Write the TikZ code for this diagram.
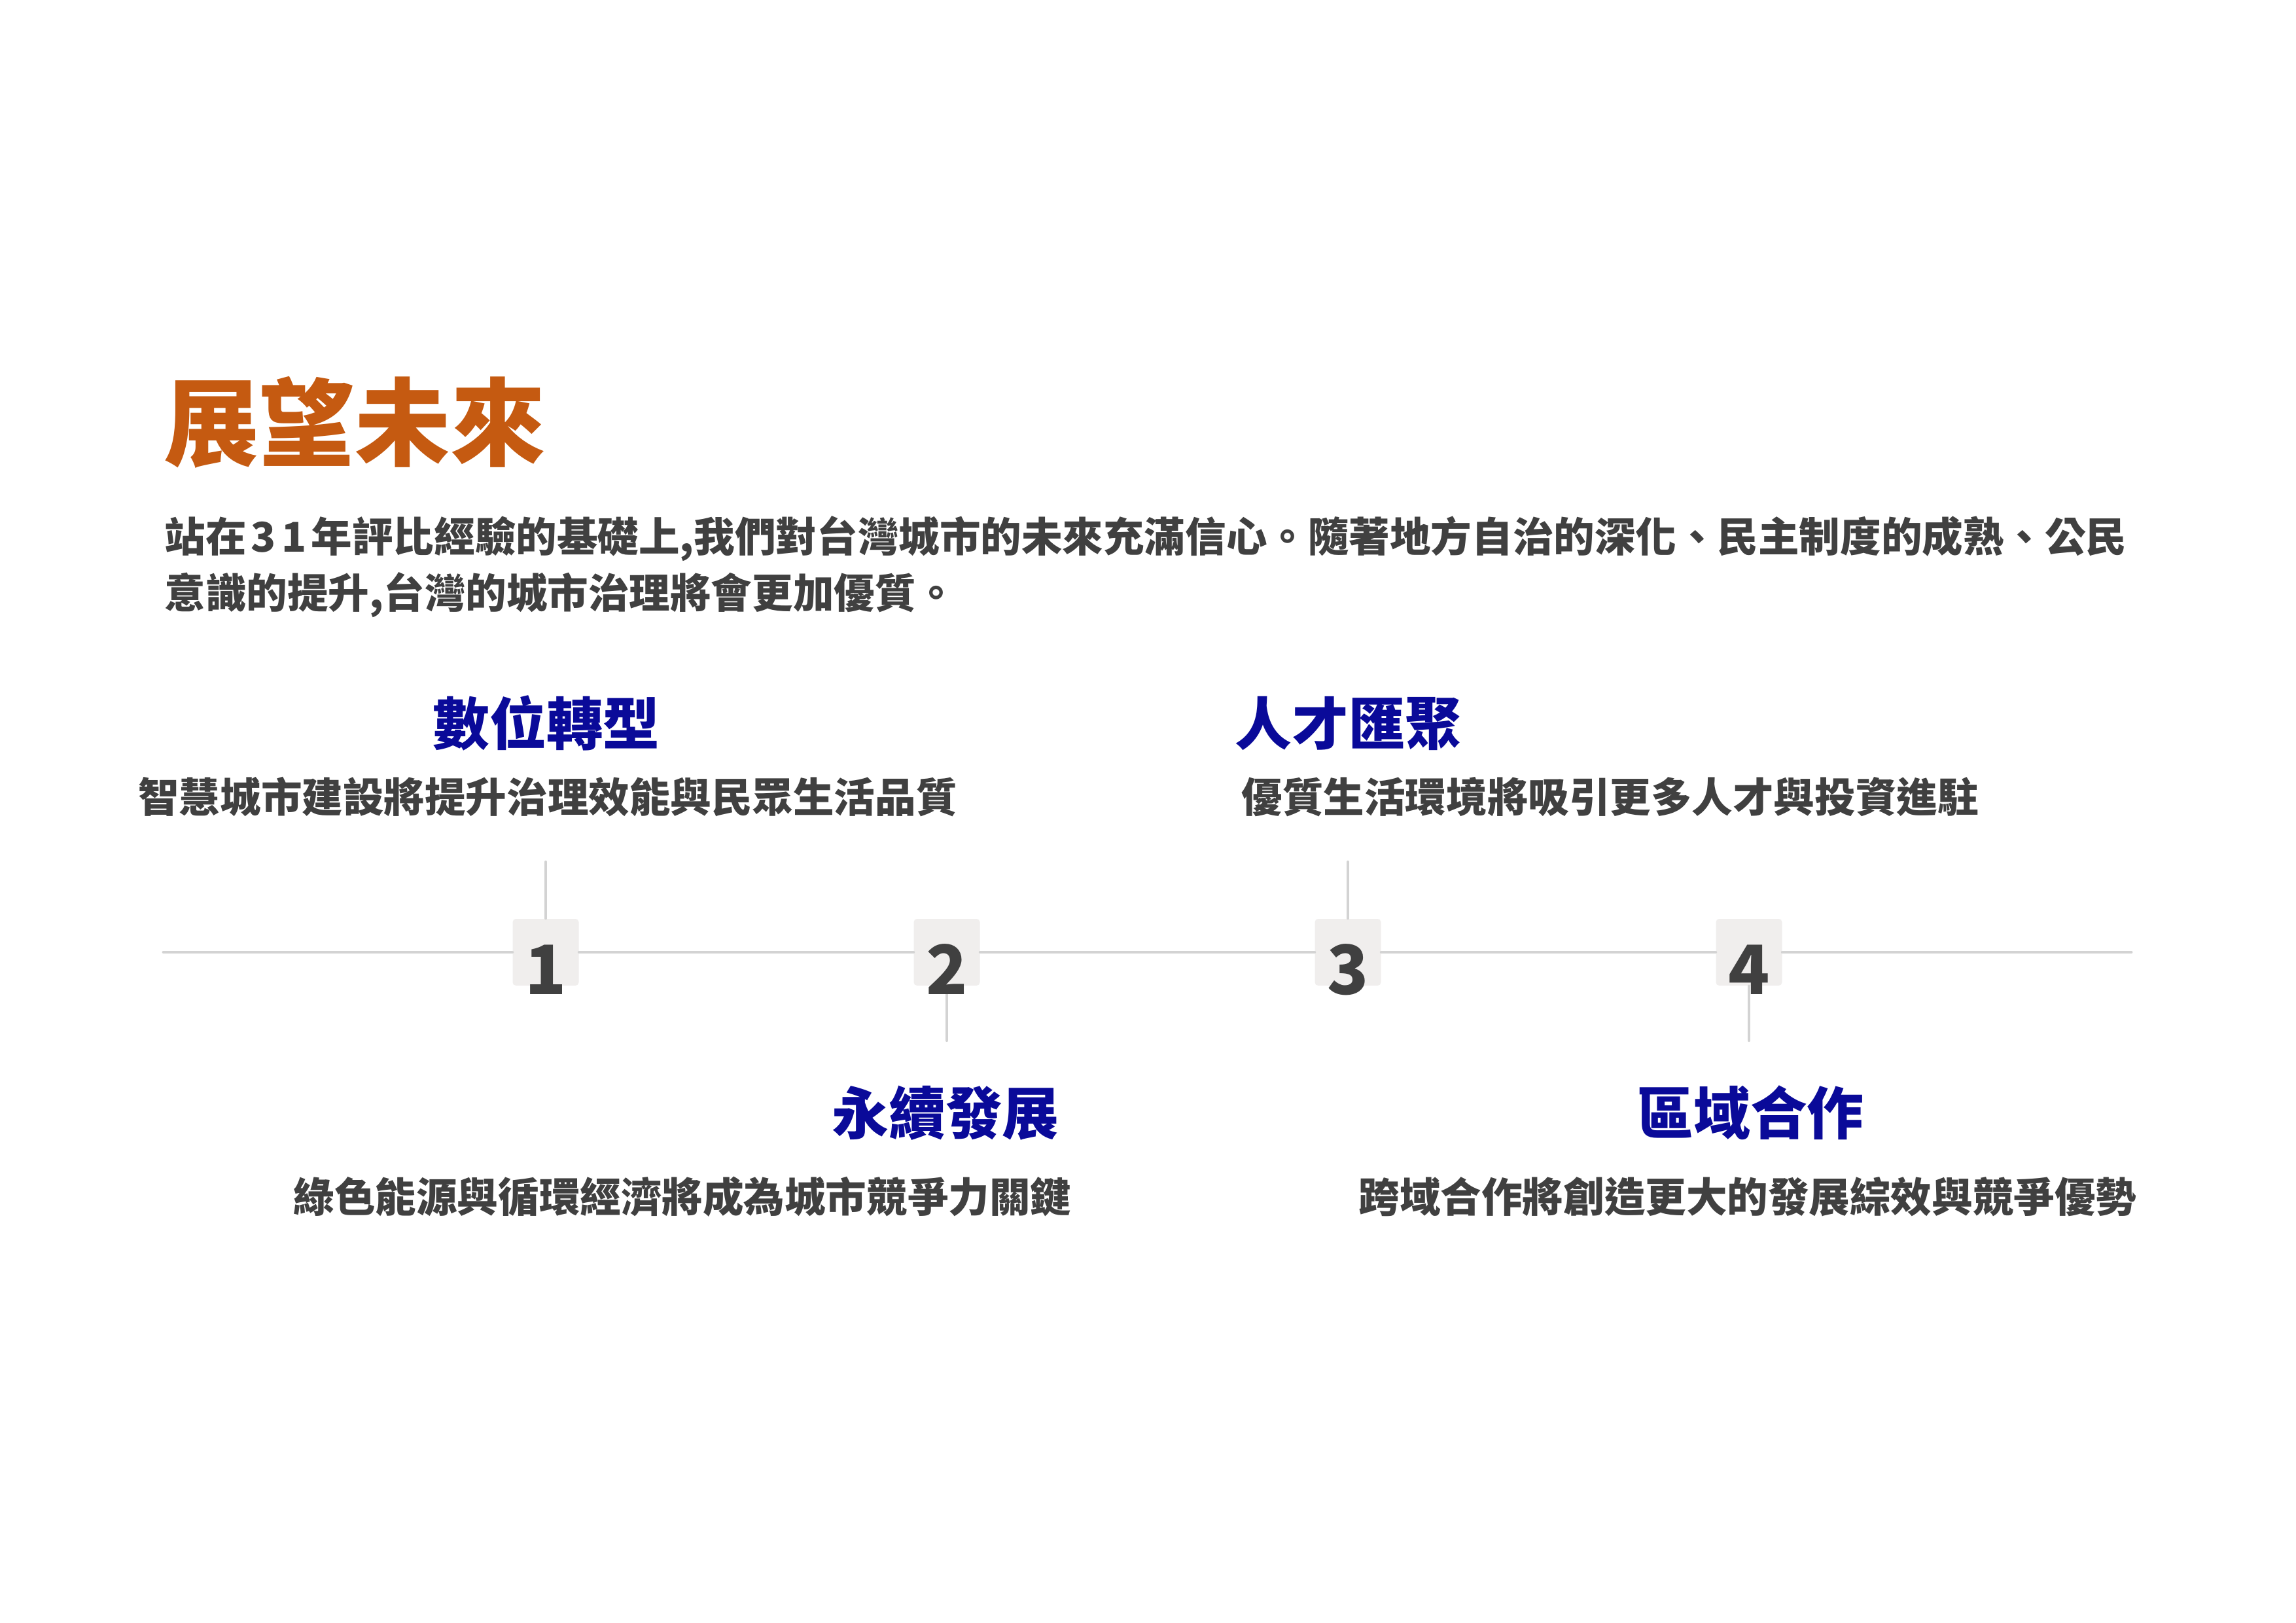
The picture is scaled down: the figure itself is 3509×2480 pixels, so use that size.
\documentclass[tikz,border=0pt]{standalone}
\usepackage{fontspec}
\newfontfamily\cjk{Noto Sans CJK TC}
\definecolor{orangeT}{HTML}{C55A11}
\definecolor{blueH}{HTML}{0A0A99}
\definecolor{grayT}{HTML}{404040}
\definecolor{lineC}{HTML}{D3D3D3}
\definecolor{boxC}{HTML}{F0EEED}
\tikzset{
  titletext/.style={font=\cjk\bfseries\fontsize{41.5pt}{48pt}\selectfont, text=orangeT, inner sep=0pt},
  bodytext/.style={font=\cjk\bfseries\fontsize{17.8pt}{24pt}\selectfont, text=grayT, inner sep=0pt},
  headtext/.style={font=\cjk\bfseries\fontsize{24.7pt}{30pt}\selectfont, text=blueH, inner sep=0pt},
  numbox/.style={fill=boxC, rounded corners=0.5mm, minimum width=10.1mm, minimum height=10.2mm, inner sep=0pt},
  numtext/.style={font=\cjk\bfseries\fontsize{29.6pt}{34pt}\selectfont, text=grayT, inner sep=0pt},
  tline/.style={draw=lineC, line width=1.4pt, line cap=round},
  vline/.style={draw=lineC, line width=1.2pt, line cap=round}
}
\begin{document}
\begin{tikzpicture}[x=0.1mm,y=-0.1mm]
\useasboundingbox[fill=white] (0,0) rectangle (3509,2480);

% title and paragraph
\node[titletext, anchor=base west] (title) at (250,700) {展望未來};
\node[bodytext, anchor=base west] (para1) at (251,843) {站在\kern2pt 3\kern2.5pt 1\kern2pt 年評比經驗的基礎上,我們對台灣城市的未來充滿信心。隨著地方自治的深化、民主制度的成熟、公民};
\node[bodytext, anchor=base west] (para2) at (251,929) {意識的提升,台灣的城市治理將會更加優質。};

% timeline
\coordinate (L) at (250,1455);
\coordinate (R) at (3257,1455);
\node[numbox] (b1) at (834,1455) {};
\node[numbox] (b2) at (1447,1455) {};
\node[numbox] (b3) at (2060,1455) {};
\node[numbox] (b4) at (2673,1455) {};
\draw[tline] (L) -- (b1.west);
\draw[tline] (b1.east) -- (b2.west);
\draw[tline] (b2.east) -- (b3.west);
\draw[tline] (b3.east) -- (b4.west);
\draw[tline] (b4.east) -- (R);

\coordinate (t1) at (834,1317);
\coordinate (d2) at (1447,1590);
\coordinate (t3) at (2060,1317);
\coordinate (d4) at (2673,1590);
\draw[vline] (t1) -- (b1.north);
\draw[vline] (b2.south) -- (d2);
\draw[vline] (t3) -- (b3.north);
\draw[vline] (b4.south) -- (d4);

\node[numtext, anchor=base] (n1) at (834,1519) {1};
\node[numtext, anchor=base] (n2) at (1447,1519) {2};
\node[numtext, anchor=base] (n3) at (2060,1519) {3};
\node[numtext, anchor=base] (n4) at (2673,1519) {4};

% item texts
\node[headtext, anchor=base] (h1) at (835,1138) {數位轉型};
\node[bodytext, anchor=base] (s1) at (837,1241) {智慧城市建設將提升治理效能與民眾生活品質};

\node[headtext, anchor=base] (h2) at (1445,1733) {永續發展};
\node[bodytext, anchor=base east] (s2) at (1638,1852) {綠色能源與循環經濟將成為城市競爭力關鍵};

\node[headtext, anchor=base] (h3) at (2061,1138) {人才匯聚};
\node[bodytext, anchor=base west] (s3) at (1897,1241) {優質生活環境將吸引更多人才與投資進駐};

\node[headtext, anchor=base] (h4) at (2675,1733) {區域合作};
\node[bodytext, anchor=base] (s4) at (2671,1852) {跨域合作將創造更大的發展綜效與競爭優勢};
\end{tikzpicture}
\end{document}
